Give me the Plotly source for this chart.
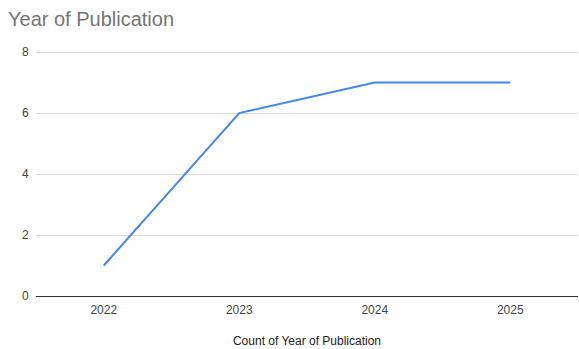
import plotly.graph_objects as go

# Publications counted per year
years = ["2022", "2023", "2024", "2025"]
counts = [1, 6, 7, 7]
y_ticks = [0, 2, 4, 6, 8]

fig = go.Figure()
fig.add_trace(go.Scatter(
    x=years, y=counts, mode="lines",
    line=dict(color="#4285F4", width=2),
    hoverinfo="x+y", showlegend=False,
))

fig.update_layout(
    width=579, height=349,
    margin=dict(l=36, r=1, t=49, b=53),
    paper_bgcolor="white", plot_bgcolor="white",
    font=dict(family="Liberation Sans, Arial, sans-serif", size=12, color="#444444"),
    title=dict(
        text="Year of Publication",
        x=8 / 579, xref="container", xanchor="left", y=0.945, yanchor="middle",
        font=dict(size=20, color="#757575"),
    ),
)

fig.update_xaxes(
    type="category", range=[-0.5, 3.5],
    showgrid=False, showline=True, linecolor="#333333", linewidth=1,
    ticks="outside", ticklen=3, tickcolor="rgba(0,0,0,0)",
    tickfont=dict(size=12, color="#444444"),
    title=dict(text="Count of Year of Publication", font=dict(size=12, color="#222222"), standoff=20),
    zeroline=False,
)
fig.update_yaxes(
    range=[0, 8.1], tickvals=y_ticks,
    showgrid=True, gridcolor="#d9d9d9", gridwidth=1,
    zeroline=False, showline=False,
    ticks="outside", ticklen=4, tickcolor="rgba(0,0,0,0)",
    tickfont=dict(size=12, color="#444444"),
)

fig.write_html("out.html")
